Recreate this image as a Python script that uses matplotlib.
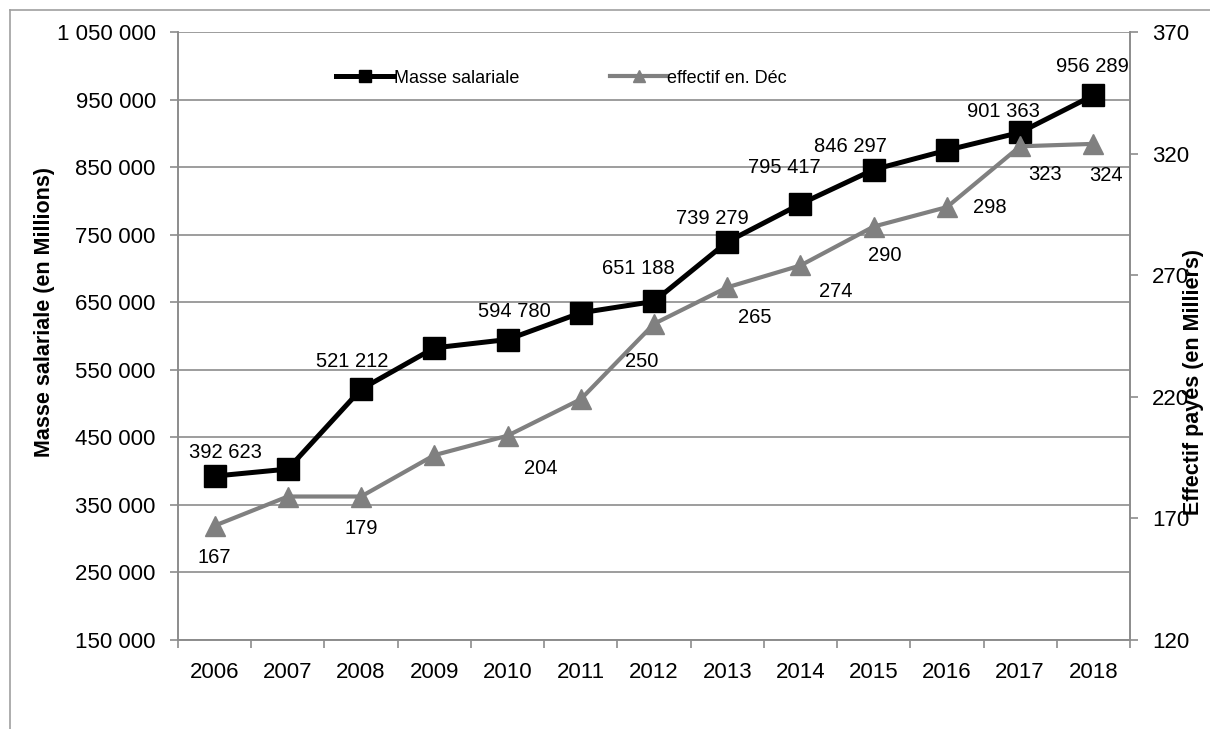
import matplotlib
matplotlib.use("Agg")
import matplotlib.pyplot as plt
from matplotlib.lines import Line2D
import numpy as np

plt.rcParams['font.family'] = ['Liberation Sans', 'DejaVu Sans']

# données
annees = ['2006', '2007', '2008', '2009', '2010', '2011', '2012',
          '2013', '2014', '2015', '2016', '2017', '2018']
masse = [392623, 403000, 521212, 582400, 594780, 634300, 651188,
         739279, 795417, 846297, 875000, 901363, 956289]
effectif = [167, 179, 179, 196, 204, 219, 250, 265, 274, 290, 298, 323, 324]

# quelles valeurs portent une étiquette
masse_lab = [True, False, True, False, True, False, True, True, True, True, False, True, True]
eff_lab = [True, False, True, False, True, False, True, True, True, True, True, True, True]

# décalage des étiquettes (pixels, x / y vers le haut)
masse_off = [(11, 24), (0, 0), (-9, 28), (0, 0), (7, 28), (0, 0), (-16, 33),
             (-15, 23), (-16, 36), (-23, 23), (0, 0), (-17, 21), (-1, 29)]
eff_off = [(0, -32), (0, 0), (0, -32), (0, 0), (33, -33), (0, 0), (-12, -38),
           (28, -30), (35, -26), (11, -29), (43, 0), (25, -28), (13, -32)]

GRIS = '#808080'
GRIS_AXE = '#8c8c8c'


def fmt(v):
    return f"{v:,}".replace(",", " ")


fig = plt.figure(figsize=(12.1, 7.29), dpi=100)
ax = fig.add_axes([178 / 1210, 1 - 640 / 729, 952 / 1210, 608 / 729])
ax2 = ax.twinx()

x = np.arange(len(annees))
ax.plot(x, masse, color='black', lw=3.6, marker='s', ms=15.5, zorder=3)
ax2.plot(x, effectif, color=GRIS, lw=3.0, marker='^', ms=15, zorder=3)

for i, v in enumerate(masse):
    if masse_lab[i]:
        ax.annotate(fmt(v), (x[i], v), xytext=masse_off[i], textcoords='offset pixels',
                    ha='center', va='center', fontsize=14.5, zorder=5)
for i, v in enumerate(effectif):
    if eff_lab[i]:
        ax2.annotate(str(v), (x[i], v), xytext=eff_off[i], textcoords='offset pixels',
                     ha='center', va='center', fontsize=14.5, zorder=5)

# axe gauche
ax.set_xlim(-0.5, len(annees) - 0.5)
ax.set_ylim(150000, 1050000)
yt = np.arange(150000, 1050001, 100000)
ax.set_yticks(yt)
ax.set_yticklabels([fmt(v) for v in yt], fontsize=16)
ax.grid(axis='y', color=GRIS_AXE, lw=1.2)
ax.set_axisbelow(True)
ax.tick_params(axis='y', length=6, width=1.2, color=GRIS_AXE, pad=10)

ax.set_xticks(x)
ax.set_xticklabels(annees, fontsize=16)
ax.set_xticks(np.arange(-0.5, len(annees), 1), minor=True)
ax.tick_params(axis='x', which='major', length=0, pad=16)
ax.tick_params(axis='x', which='minor', length=6, width=1.2, color=GRIS_AXE)

# axe droit
ax2.set_ylim(120, 370)
ax2.set_yticks(np.arange(120, 371, 50))
ax2.tick_params(axis='y', length=6, width=1.2, color=GRIS_AXE, pad=10, labelsize=16)

for a in (ax, ax2):
    a.spines['top'].set_visible(False)
    for s in ('left', 'right', 'bottom'):
        a.spines[s].set_color(GRIS_AXE)
        a.spines[s].set_linewidth(1.2)

ax.set_ylabel('Masse salariale (en Millions)', fontsize=15.5, fontweight='bold')
ax.yaxis.set_label_coords(-0.129, 0.539)
ax2.set_ylabel('Effectif payés (en Milliers)', fontsize=15.5, fontweight='bold')
ax2.yaxis.set_label_coords(1.056, 0.424)

# légende
h1 = Line2D([], [], color='black', lw=3.6, marker='s', ms=9)
h2 = Line2D([], [], color=GRIS, lw=3.0, marker='^', ms=8)
ax2.legend([h1, h2], ['Masse salariale', 'effectif en. Déc'], ncol=2, frameon=False,
           loc='center', bbox_to_anchor=(0.403, 0.924), fontsize=13,
           handlelength=3.2, handletextpad=0.0, columnspacing=5.0)

# cadre du graphique
fig.add_artist(Line2D([10 / 1210, 1], [1 - 10 / 729, 1 - 10 / 729], color='#a0a0a0', lw=1.2))
fig.add_artist(Line2D([10 / 1210, 10 / 1210], [0, 1 - 10 / 729], color='#a0a0a0', lw=1.2))

fig.savefig('out.png', dpi=100)
